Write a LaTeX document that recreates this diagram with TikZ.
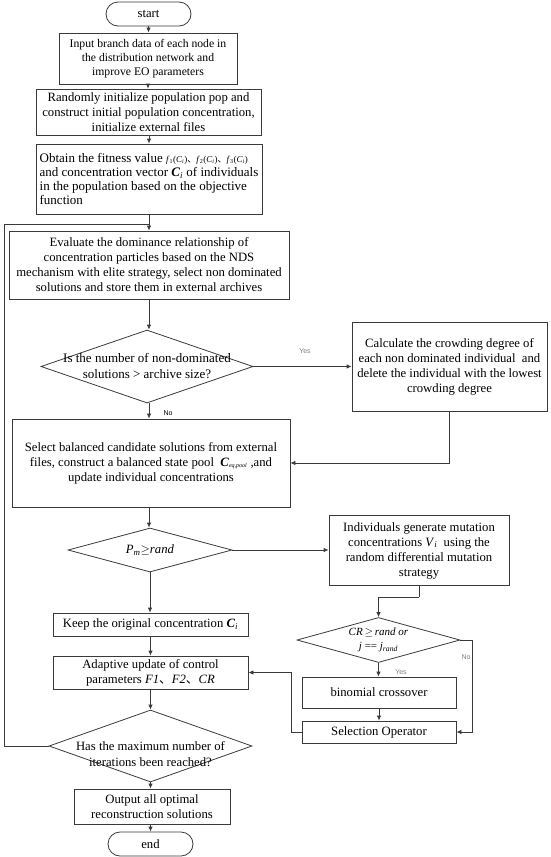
\documentclass[tikz,border=0pt]{standalone}
\usepackage{fontspec}
\setmainfont{Liberation Serif}
\newfontfamily\cjk{Noto Sans CJK SC}
\newfontfamily\lblfont{Liberation Sans}
\usetikzlibrary{shapes.geometric,arrows.meta}
\definecolor{lc}{HTML}{3A3A3A}
\newcommand{\dun}{{\cjk 、}}
\newcommand{\smf}{\fontsize{9}{10}\selectfont}
\tikzset{
  box/.style={draw=lc, line width=0.8pt, rectangle, align=center, inner sep=1pt,
     font=\fontsize{12.7}{15}\selectfont},
  term/.style={box, rounded corners=12pt},
  dia/.style={draw=lc, line width=0.8pt, diamond, inner sep=0pt},
  dtext/.style={align=center, font=\fontsize{12.7}{15.5}\selectfont, inner sep=0pt},
  arr/.style={draw=lc, line width=0.8pt, -{Latex[length=5pt,width=4.5pt]}},
  ln/.style={draw=lc, line width=0.8pt},
  yn/.style={font=\lblfont\fontsize{7}{8}\selectfont, inner sep=0pt}
}
\begin{document}
\begin{tikzpicture}[x=1pt,y=-1pt]
\useasboundingbox (0,0) rectangle (550,857);
% main column
\node[term, minimum width=85pt, minimum height=24pt] (start) at (148.5,14) {start};
\node[box, minimum width=178pt, minimum height=51pt, font=\fontsize{11.7}{14}\selectfont] (b1) at (148,58.5)
  {Input branch data of each node in\\ the distribution network and\\ improve EO parameters};
\node[box, minimum width=225pt, minimum height=46pt] (b2) at (148.5,112)
  {Randomly initialize population pop and\\ construct initial population concentration,\\ initialize external files};
\node[box, minimum width=226pt, minimum height=70pt, align=left, font=\fontsize{13}{13.8}\selectfont] (b3) at (149,179)
  {Obtain the fitness value {\smf\textit{f}\textsubscript{1}(\textit{C}\textsubscript{\textit{i}})\dun\textit{f}\textsubscript{2}(\textit{C}\textsubscript{\textit{i}})\dun\textit{f}\textsubscript{3}(\textit{C}\textsubscript{\textit{i}})}\\ and concentration vector \textbf{\textit{C}}\textsubscript{\textit{i}} of individuals\\ in the population based on the objective\\ function};
\node[box, minimum width=280pt, minimum height=68pt] (b4) at (149,265)
  {Evaluate the dominance relationship of\\ concentration particles based on the NDS\\ mechanism with elite strategy, select non dominated\\ solutions and store them in external archives};
\node[dia, minimum width=212pt, minimum height=73pt] (d1) at (147,366.5) {};
\node[dtext, font=\fontsize{13}{16}\selectfont] (d1t) at (d1.center) {Is the number of non-dominated\\ solutions > archive size?};
\node[box, minimum width=195pt, minimum height=89pt] (crowd) at (449.5,366.5)
  {Calculate the crowding degree of\\ each non dominated individual\ \ and\\ delete the individual with the lowest\\ crowding degree};
\node[box, minimum width=278pt, minimum height=88pt] (b5) at (151,463)
  {Select balanced candidate solutions from external\\ files, construct a balanced state pool\ \ \textbf{\textit{C}}{\smf\textsubscript{\textit{eq,pool}}}\ ,and\\ update individual\ concentrations};
\node[dia, minimum width=164pt, minimum height=44pt] (d2) at (150,550) {};
\node[dtext] (d2t) at (d2.center) {\textit{P}\textsubscript{\textit{m}}$\geq$\textit{rand}};
\node[box, minimum width=180pt, minimum height=70pt] (mut) at (419,550.5)
  {Individuals generate mutation\\ concentrations \textit{V}\textsubscript{\textit{i}}\ \ using the\\ random differential mutation\\ strategy};
\node[dia, minimum width=163pt, minimum height=45pt] (d3) at (378.5,640) {};
\node[dtext, font=\fontsize{11}{14}\selectfont] (d3t) at (d3.center) {\textit{CR}\,$\geq$\,\textit{rand or}\\ \textit{j} == \textit{j}\textsubscript{\textit{rand}}};
\node[box, minimum width=154pt, minimum height=31pt] (binom) at (379,692.5) {binomial crossover};
\node[box, minimum width=154pt, minimum height=22pt] (sel) at (379,732) {Selection Operator};
\node[box, minimum width=195pt, minimum height=23pt] (keep) at (150.5,624.5)
  {Keep the original concentration \textbf{\textit{C}}\textsubscript{\textit{i}}};
\node[box, minimum width=195pt, minimum height=33pt] (adapt) at (150.5,672.5)
  {Adaptive update of control\\ parameters \textit{F1}\dun\textit{F2}\dun\textit{CR}};
\node[dia, minimum width=203pt, minimum height=72pt] (d4) at (150.5,746) {};
\node[dtext] (d4t) at ([yshift=-8pt]d4.center) {Has the maximum number of\\ iterations been reached?};
\node[box, minimum width=156pt, minimum height=35pt] (out) at (152,806.5)
  {Output all optimal\\ reconstruction solutions};
\node[term, minimum width=85pt, minimum height=24pt] (end) at (150.5,844) {end};
% label nodes
\node[yn] (no1) at (168,413) {No};
\node[yn, text=gray] (yes1) at (305,351) {Yes};
\node[yn, text=gray] (yes2) at (401,672) {Yes};
\node[yn, text=gray] (no2) at (466,657) {No};
% coordinates
\coordinate (loopL) at (4,224);
\coordinate (join) at (149,224);
\coordinate (cr) at (449,411);
\coordinate (mb) at (419,597);
\coordinate (nr) at (472,640);
\coordinate (sl) at (291,732);
% connectors
\draw[arr] (start.south) -- (start.south |- b1.north);
\draw[arr] (b1.south) -- (b1.south |- b2.north);
\draw[arr] (join |- b2.south) -- (join |- b3.north);
\draw[arr] (join |- b3.south) -- (join |- b4.north);
\draw[arr] (join |- b4.south) -- (join |- d1.north);
\draw[arr] (join |- d1.south) -- (join |- b5.north);
\draw[arr] (d1.east) -- (crowd.west);
\draw[arr] (crowd.south) |- (b5.east);
\draw[arr] (join |- b5.south) -- (join |- d2.north);
\draw[arr] (d2.east) -- (d2.east -| mut.west);
\draw[ln] (mut.south) -- (mb);
\draw[arr] (mb) -| (d3.north);
\draw[arr] (d3.south) -- (d3.south |- binom.north);
\draw[arr] (binom.south) -- (binom.south |- sel.north);
\draw[arr] (d3.east) -- (nr) |- (sel.east);
\draw[arr] (sel.west) -- (sl) |- (adapt.east);
\draw[arr] (d2.south) -- (d2.south |- keep.north);
\draw[arr] (keep.south) -- (keep.south |- adapt.north);
\draw[arr] (adapt.south) -- (d4.north);
\draw[arr] (d4.south) -- (d4.south |- out.north);
\draw[arr] (d4.south |- out.south) -- (d4.south |- end.north);
\draw[ln] (d4.west) -| (loopL) -- (join);
\end{tikzpicture}
\end{document}
